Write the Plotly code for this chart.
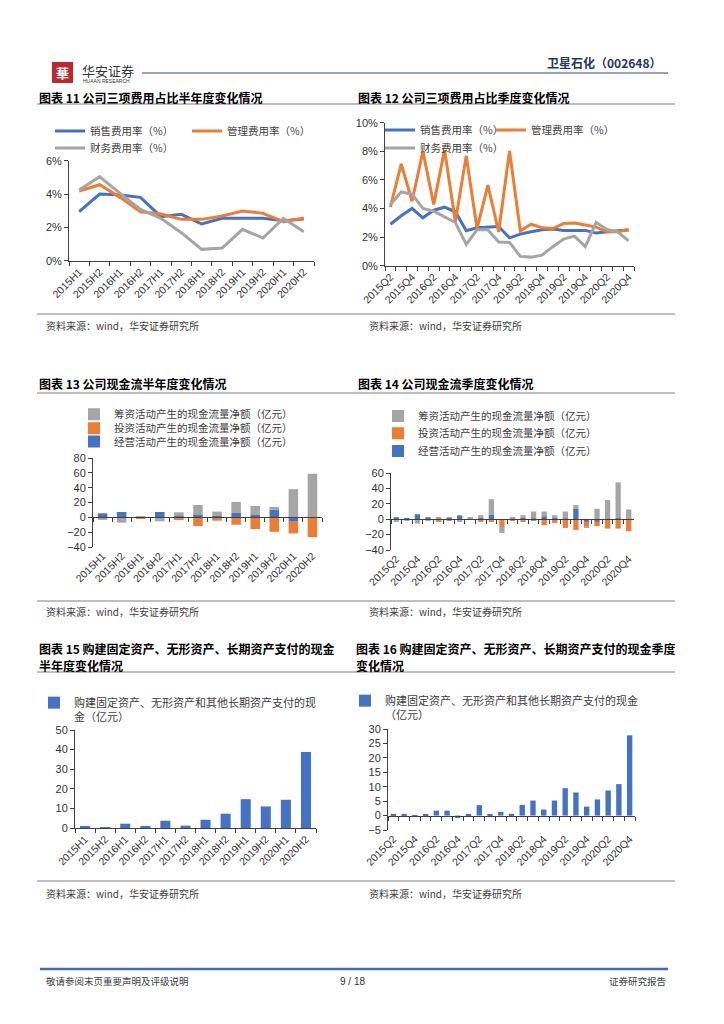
import plotly.graph_objects as go

W, H = 724, 1024
OFF = 8  # page body margin of the html page
CJK = "Noto Sans CJK SC"
LAT = "Liberation Sans, Arial, sans-serif"
BLUE, ORANGE, GREY = "#4472C4", "#ED7D31", "#A5A5A5"
AX = "#404040"

# ---------------- data ----------------
half_cats = ["2015H1", "2015H2", "2016H1", "2016H2", "2017H1", "2017H2",
             "2018H1", "2018H2", "2019H1", "2019H2", "2020H1", "2020H2"]
quarter_cats = ["2015Q2", "2015Q3", "2015Q4",
                "2016Q1", "2016Q2", "2016Q3", "2016Q4",
                "2017Q1", "2017Q2", "2017Q3", "2017Q4",
                "2018Q1", "2018Q2", "2018Q3", "2018Q4",
                "2019Q1", "2019Q2", "2019Q3", "2019Q4",
                "2020Q1", "2020Q2", "2020Q3", "2020Q4"]

name_sales = "销售费用率（%）"
name_admin = "管理费用率（%）"
name_fin = "财务费用率（%）"
name_fin_cf = "筹资活动产生的现金流量净额（亿元）"
name_inv_cf = "投资活动产生的现金流量净额（亿元）"
name_op_cf = "经营活动产生的现金流量净额（亿元）"
name_capex_h = "购建固定资产、无形资产和其他长期资产支付的现<br>金（亿元）"
name_capex_q = "购建固定资产、无形资产和其他长期资产支付的现金<br>（亿元）"

# Figure 11 (half-year, %)
h_sales_rate = [2.94, 4.00, 3.94, 3.80, 2.64, 2.78, 2.20, 2.54, 2.54, 2.54, 2.40, 2.50]
h_admin_rate = [4.18, 4.56, 3.80, 2.94, 2.80, 2.48, 2.48, 2.68, 2.98, 2.84, 2.34, 2.56]
h_fin_rate = [4.24, 5.04, 4.04, 3.08, 2.54, 1.68, 0.68, 0.76, 1.88, 1.36, 2.54, 1.74]

# Figure 12 (quarterly, %)
q_sales_rate = [2.90, 3.49, 4.00, 3.35, 3.88, 4.09, 3.77, 2.44, 2.65, 2.67, 2.74, 1.95,
                2.21, 2.37, 2.51, 2.56, 2.47, 2.47, 2.47, 2.28, 2.37, 2.44, 2.49]
q_admin_rate = [4.12, 7.12, 4.51, 8.00, 4.28, 8.10, 3.07, 7.68, 2.60, 5.63, 2.37, 8.02,
                2.42, 2.90, 2.65, 2.60, 2.95, 2.98, 2.84, 2.70, 2.37, 2.37, 2.53]
q_fin_rate = [4.28, 5.16, 5.00, 4.00, 3.81, 3.42, 3.02, 1.49, 2.51, 2.51, 1.65, 1.63,
              0.65, 0.60, 0.74, 1.33, 1.86, 2.07, 1.33, 3.02, 2.53, 2.37, 1.74]

# Figure 13 (half-year cash flow, 亿元)
h_operating_cf = [5.4, 7.2, 0.3, 7.2, 1.8, 4.0, 1.8, 5.9, 3.2, 10.4, -5.9, 0.5]
h_investing_cf = [-0.5, -1.0, -1.8, -0.8, -3.6, -11.8, -4.5, -10.0, -15.8, -19.5, -15.8, -26.7]
h_financing_cf = [-3.0, -6.2, 1.5, -4.6, 5.0, 12.7, 5.9, 14.9, 12.2, 3.6, 38.0, 58.3]

# Figure 14 (quarterly cash flow, 亿元)
q_operating_cf = [2.6, 1.7, 6.5, 2.6, 0.5, 2.2, 5.0, 0.3, 1.7, 6.1, 0.0, 0.5,
                  2.2, 1.0, 3.9, 2.2, 0.9, 13.9, -3.5, -3.5, 0.5, 1.3, 0.3]
q_investing_cf = [-0.3, -0.3, -0.5, -0.5, -3.5, -1.5, -0.5, -0.5, -3.5, -3.5, -10.0, -1.5,
                  -3.5, -2.0, -7.8, -4.8, -11.3, -13.9, -5.6, -5.6, -12.2, -12.2, -15.7]
q_financing_cf = [-3.2, -1.5, -5.1, -1.0, 2.6, 0.3, -3.0, 2.3, 3.5, 19.9, -7.8, 2.6,
                  3.0, 9.0, 6.1, 3.0, 9.1, 4.4, -1.3, 13.5, 24.3, 46.5, 12.3]

# Figure 15 / 16 (capex, 亿元)
h_capex = [1.0, 0.5, 2.2, 0.8, 3.7, 1.2, 4.2, 7.3, 14.7, 11.0, 14.4, 38.8]
q_capex = [0.6, 0.6, 0.1, 0.35, 1.7, 1.7, -0.8, 0.35, 3.6, 0.2, 1.3, 0.6,
           3.7, 5.2, 2.1, 5.2, 9.5, 8.0, 3.1, 5.6, 8.7, 10.9, 27.8]

# ---------------- helpers ----------------
def fx(px):
    return (px - OFF) / W


def fy(py):
    return 1 - (py - OFF) / H


fig = go.Figure()
layout = dict(width=W, height=H,
              margin=dict(l=0, r=0, t=0, b=0, pad=0, autoexpand=False),
              paper_bgcolor="white", plot_bgcolor="rgba(0,0,0,0)",
              barmode="relative", bargap=0.5, showlegend=True,
              font=dict(family=LAT, color="#333333"))


def axid(i):
    return "" if i == 1 else str(i)


def make_axes(i, box, yrange, dtick, cats, every, suffix, zero_axis, overlay_id=None):
    l, r, t, b = box
    n = len(cats)
    ticktext = [c if k % every == 0 else "" for k, c in enumerate(cats)]
    layout["xaxis" + axid(i)] = dict(
        domain=[fx(l), fx(r)], anchor="y" + axid(i), type="category",
        categoryorder="array", categoryarray=cats, range=[-0.5, n - 0.5],
        tickmode="array", tickvals=cats, ticktext=ticktext, tickangle=-45,
        tickfont=dict(family=LAT, size=10.5, color="#333333"),
        showgrid=False, zeroline=False, tickson="boundaries",
        ticks="" if zero_axis else "outside", ticklen=4, tickcolor=AX,
        showline=not zero_axis, linecolor=AX, linewidth=1, fixedrange=True)
    layout["yaxis" + axid(i)] = dict(
        domain=[fy(b), fy(t)], anchor="x" + axid(i), range=yrange,
        tick0=0, dtick=dtick, ticksuffix=suffix, showgrid=False, zeroline=False,
        showline=True, linecolor=AX, linewidth=1, ticks="outside", ticklen=4,
        tickcolor=AX, tickfont=dict(family=LAT, size=11, color="#333333"),
        fixedrange=True)
    if zero_axis:
        zpos = fy(b) + (0 - yrange[0]) / (yrange[1] - yrange[0]) * (fy(t) - fy(b))
        layout["xaxis" + str(overlay_id)] = dict(
            domain=[fx(l), fx(r)], overlaying="x" + axid(i), anchor="free",
            position=zpos, type="category", categoryorder="array",
            categoryarray=cats, range=[-0.5, n - 0.5], tickmode="array",
            tickvals=cats, showticklabels=False, tickson="boundaries",
            ticks="outside", ticklen=4, tickcolor=AX, showline=True,
            linecolor=AX, linewidth=1, showgrid=False, zeroline=False,
            fixedrange=True)
        fig.add_trace(go.Scatter(x=cats, y=[0] * n, xaxis="x" + str(overlay_id),
                                 yaxis="y" + axid(i), mode="markers",
                                 marker=dict(opacity=0, size=1), showlegend=False,
                                 hoverinfo="skip"))


def add_legend(lid, text_x, y, size=10.5, multiline=False):
    d = dict(x=fx(text_x - 40), xanchor="left", bgcolor="rgba(0,0,0,0)",
             borderwidth=0, font=dict(family=CJK, size=size, color="#404040"),
             orientation="v")
    if multiline:
        d.update(y=fy(y - 8), yanchor="top", valign="top")
    else:
        d.update(y=fy(y), yanchor="middle")
    layout[lid] = d


# ---------------- chart 11 ----------------
make_axes(1, (69, 314, 160.7, 260.7), [0, 6], 2, half_cats, 1, "%", False)
for vals, col, nm, lid in [(h_sales_rate, BLUE, name_sales, "legend"),
                           (h_admin_rate, ORANGE, name_admin, "legend2"),
                           (h_fin_rate, GREY, name_fin, "legend3")]:
    fig.add_trace(go.Scatter(x=half_cats, y=vals, mode="lines", name=nm,
                             line=dict(color=col, width=3), xaxis="x", yaxis="y",
                             legend=lid))
add_legend("legend", 90, 131)
add_legend("legend2", 227, 131)
add_legend("legend3", 90, 148)

# ---------------- chart 12 ----------------
make_axes(2, (385, 634, 122.7, 265.7), [0, 10], 2, quarter_cats, 2, "%", False)
for vals, col, nm, lid in [(q_sales_rate, BLUE, name_sales, "legend4"),
                           (q_admin_rate, ORANGE, name_admin, "legend5"),
                           (q_fin_rate, GREY, name_fin, "legend6")]:
    fig.add_trace(go.Scatter(x=quarter_cats, y=vals, mode="lines", name=nm,
                             line=dict(color=col, width=3), xaxis="x2", yaxis="y2",
                             legend=lid))
add_legend("legend4", 420, 130)
add_legend("legend5", 531, 130)
add_legend("legend6", 420, 148)

# ---------------- chart 13 ----------------
make_axes(3, (93, 322, 458, 547), [-40, 80], 20, half_cats, 1, "", True, overlay_id=7)
for vals, col, nm, lid in [(h_operating_cf, BLUE, name_op_cf, "legend9"),
                           (h_investing_cf, ORANGE, name_inv_cf, "legend8"),
                           (h_financing_cf, GREY, name_fin_cf, "legend7")]:
    fig.add_trace(go.Bar(x=half_cats, y=vals, name=nm, marker_color=col,
                         marker_line_width=0, xaxis="x3", yaxis="y3", legend=lid))
add_legend("legend7", 114, 414.3)
add_legend("legend8", 114, 428.3)
add_legend("legend9", 114, 441.5)

# ---------------- chart 14 ----------------
make_axes(4, (391, 634, 473, 550), [-40, 60], 20, quarter_cats, 2, "", True, overlay_id=8)
for vals, col, nm, lid in [(q_operating_cf, BLUE, name_op_cf, "legend12"),
                           (q_investing_cf, ORANGE, name_inv_cf, "legend11"),
                           (q_financing_cf, GREY, name_fin_cf, "legend10")]:
    fig.add_trace(go.Bar(x=quarter_cats, y=vals, name=nm, marker_color=col,
                         marker_line_width=0, xaxis="x4", yaxis="y4", legend=lid))
add_legend("legend10", 418, 416)
add_legend("legend11", 418, 433.3)
add_legend("legend12", 418, 451)

# ---------------- chart 15 ----------------
make_axes(5, (75, 316, 730, 828), [0, 50], 10, half_cats, 1, "", False)
fig.add_trace(go.Bar(x=half_cats, y=h_capex, name=name_capex_h, marker_color=BLUE,
                     marker_line_width=0, xaxis="x5", yaxis="y5", legend="legend13"))
add_legend("legend13", 74, 697, size=11, multiline=True)

# ---------------- chart 16 ----------------
make_axes(6, (388, 635, 729, 830), [-5, 30], 5, quarter_cats, 2, "", True, overlay_id=9)
fig.add_trace(go.Bar(x=quarter_cats, y=q_capex, name=name_capex_q, marker_color=BLUE,
                     marker_line_width=0, xaxis="x6", yaxis="y6", legend="legend14"))
add_legend("legend14", 385, 695, size=11, multiline=True)

# ---------------- page decorations ----------------
annotations = []
shapes = []


def txt(s, x, y, size=12, color="#000000", bold=False, anchor="left", family=CJK):
    annotations.append(dict(text=("<b>%s</b>" % s) if bold else s, x=fx(x), y=fy(y),
                            xref="paper", yref="paper", xanchor=anchor,
                            yanchor="middle", showarrow=False,
                            font=dict(family=family, size=size, color=color)))


def hline(x0, x1, y, color="#7F7F7F", width=1):
    shapes.append(dict(type="line", xref="paper", yref="paper", x0=fx(x0), x1=fx(x1),
                       y0=fy(y), y1=fy(y), line=dict(color=color, width=width)))


# header
shapes.append(dict(type="rect", xref="paper", yref="paper", x0=fx(52), x1=fx(73),
                   y0=fy(83), y1=fy(62), fillcolor="#C0262D", line=dict(width=0)))
txt("華", 62.5, 72.5, size=13, color="white", bold=True, anchor="center")
txt("华安证券", 80, 70, size=13, color="#333333")
txt("HUAAN RESEARCH", 81, 81, size=5, color="#333333", family=LAT)
txt("卫星石化（002648）", 663, 62, size=12, color="#1F3864", bold=True, anchor="right")
hline(142, 668, 73, color="#2F4A7A", width=1)

# titles
txt("图表 11 公司三项费用占比半年度变化情况", 37, 97, bold=True)
txt("图表 12 公司三项费用占比季度变化情况", 356, 97, bold=True)
txt("图表 13 公司现金流半年度变化情况", 37, 383, bold=True)
txt("图表 14 公司现金流季度变化情况", 356, 383, bold=True)
txt("图表 15 购建固定资产、无形资产、长期资产支付的现金", 37, 648, bold=True)
txt("半年度变化情况", 37, 665, bold=True)
txt("图表 16 购建固定资产、无形资产、长期资产支付的现金季度", 354, 648, bold=True)
txt("变化情况", 354, 665, bold=True)
for yy in (104, 393, 672):
    hline(37, 675, yy, color="#808080", width=1.2)

# sources
for yy_line, yy_txt in ((314, 325), (601, 611), (881, 893)):
    hline(37, 675, yy_line, color="#808080", width=1.2)
    txt("资料来源：wind，华安证券研究所", 44, yy_txt, size=10, color="#404040")
    txt("资料来源：wind，华安证券研究所", 367, yy_txt, size=10, color="#404040")

# footer
hline(40, 668, 969, color="#3D6DB3", width=2.5)
txt("敬请参阅末页重要声明及评级说明", 44, 981, size=9.5, color="#404040")
txt("9 / 18", 352, 981, size=10, color="#333333", anchor="center", family=LAT)
txt("证券研究报告", 668, 981, size=9.5, color="#404040", anchor="right")

layout["annotations"] = annotations
layout["shapes"] = shapes
fig.update_layout(**layout)
fig.write_html("out.html")
